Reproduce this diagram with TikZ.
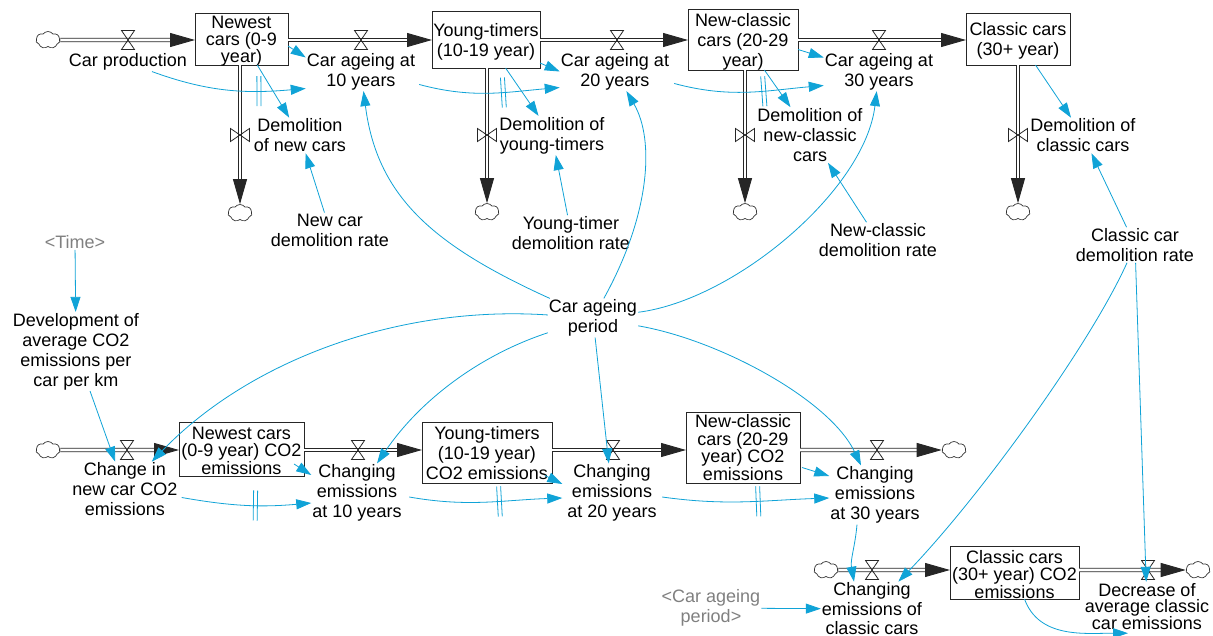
\documentclass[tikz,border=0pt]{standalone}
\usepackage{fontspec}
\setmainfont{Liberation Sans}
\usetikzlibrary{arrows.meta,shapes.symbols,decorations.markings}
\definecolor{linkblue}{RGB}{16,163,215}
\definecolor{ghost}{RGB}{128,128,128}
\begin{document}
\begin{tikzpicture}[x=1pt,y=1pt,
  txt/.style={font=\fontsize{18}{20}\selectfont, align=center, inner sep=1pt},
  graytxt/.style={txt, text=ghost},
  stockbox/.style={draw=black!85, line width=0.9pt, inner sep=0pt, outer sep=0pt},
  stocktxt/.style={font=\fontsize{18}{#1}\selectfont, align=center, inner sep=0pt},
  cloudnode/.style={cloud, cloud puffs=7, cloud puff arc=110, aspect=1.4, draw=black!80, line width=0.7pt, inner sep=0pt, minimum width=24pt, minimum height=17pt},
  valvenode/.style={inner sep=0pt, outer sep=0pt, minimum width=13pt, minimum height=19pt},
  valvevnode/.style={inner sep=0pt, outer sep=0pt, minimum width=19pt, minimum height=13pt},
  valveline/.style={draw=black!85, line width=0.8pt},
  pipe/.style={draw=black!85, double=white, double distance=2.6pt, line width=0.9pt, -{Triangle[length=25pt,width=14pt]}},
  link/.style={draw=linkblue, line width=0.8pt, -{Triangle[length=15pt,width=10pt]}},
  delay/.style={postaction={decorate, decoration={markings, mark=at position #1 with {\draw[linkblue, line width=0.8pt, -] (-2pt,-15pt) -- (-2pt,15pt) (2pt,-15pt) -- (2pt,15pt);}}}},
]
\fill[white] (0,0) rectangle (1213,-636);
\useasboundingbox (0,0) rectangle (1213,-636);

% ---------- top chain ----------
\node[cloudnode] (c1) at (48,-40) {};
\node[valvenode] (v1) at (128,-40) {};
\node[txt] (v1lab) at (128,-62) {Car production};
\node[stockbox, minimum width=93pt, minimum height=52pt,
  label={[stocktxt=17, yshift=-2.5pt]center:Newest\\cars (0-9\\year)}] (s1) at (241.5,-39) {};
\node[valvenode] (v2) at (361,-40) {};
\node[txt] (v2lab) at (361,-71.5) {Car ageing at\\10 years};
\node[stockbox, minimum width=108pt, minimum height=57pt,
  label={[stocktxt=20, yshift=-2.5pt]center:Young-timers\\(10-19 year)}] (s2) at (486,-39.5) {};
\node[valvenode] (v3) at (617,-40) {};
\node[txt] (v3lab) at (615,-71.5) {Car ageing at\\20 years};
\node[stockbox, minimum width=110pt, minimum height=61pt,
  label={[stocktxt=20, yshift=-2pt]center:New-classic\\cars (20-29\\year)}] (s3) at (743,-39.5) {};
\node[valvenode] (v4) at (879,-40) {};
\node[txt] (v4lab) at (879,-71.5) {Car ageing at\\30 years};
\node[stockbox, minimum width=104pt, minimum height=52pt,
  label={[stocktxt=20, yshift=-2pt]center:Classic cars\\(30+ year)}] (s4) at (1018,-39) {};

% outflows
\node[valvevnode] (w1) at (240,-135) {};
\node[valvevnode] (w2) at (487,-135) {};
\node[valvevnode] (w3) at (745,-135) {};
\node[valvevnode] (w4) at (1018,-135) {};
\node[cloudnode] (cd1) at (240,-213) {};
\node[cloudnode] (cd2) at (487,-212) {};
\node[cloudnode] (cd3) at (745,-212) {};
\node[cloudnode] (cd4) at (1018,-212) {};
\node[txt] (d1lab) at (300,-135.5) {Demolition\\of new cars};
\node[txt] (d2lab) at (552,-135.5) {Demolition of\\young-timers};
\node[txt] (d3lab) at (810,-135) {Demolition of\\new-classic\\cars};
\node[txt] (d4lab) at (1083,-135.5) {Demolition of\\classic cars};

\node[txt] (r1) at (330,-230) {New car\\demolition rate};
\node[txt] (r2) at (571,-233) {Young-timer\\demolition rate};
\node[txt] (r3) at (878,-240) {New-classic\\demolition rate};
\node[txt] (r4) at (1135,-245) {Classic car\\demolition rate};

\node[graytxt] (time) at (75,-242) {<Time>};
\node[txt] (dev) at (76,-351.5) {Development of\\average CO2\\emissions per\\car per km};
\node[txt] (cap) at (593,-318) {Car ageing\\period};

% ---------- bottom chain ----------
\node[cloudnode] (bc1) at (48,-450) {};
\node[valvenode] (bv1) at (127,-450) {};
\node[txt] (bv1lab) at (125,-489.5) {Change in\\new car CO2\\emissions};
\node[stockbox, minimum width=125pt, minimum height=54pt,
  label={[stocktxt=17.5, yshift=-1.5pt]center:Newest cars\\(0-9 year) CO2\\emissions}] (b1) at (241.5,-449) {};
\node[valvenode] (bv2) at (358,-450) {};
\node[txt] (bv2lab) at (357,-493) {Changing\\emissions\\at 10 years};
\node[stockbox, minimum width=130pt, minimum height=61pt,
  label={[stocktxt=20, yshift=-1pt]center:Young-timers\\(10-19 year)\\CO2 emissions}] (b2) at (487,-452.5) {};
\node[valvenode] (bv3) at (613,-450) {};
\node[txt] (bv3lab) at (612,-493) {Changing\\emissions\\at 20 years};
\node[stockbox, minimum width=114pt, minimum height=71pt,
  label={[stocktxt=17.5]center:New-classic\\cars (20-29\\year) CO2\\emissions}] (b3) at (743,-447.5) {};
\node[valvenode] (bv4) at (877,-450) {};
\node[txt] (bv4lab) at (875,-495) {Changing\\emissions\\at 30 years};
\node[cloudnode] (bc2) at (954,-450) {};

\node[cloudnode] (bc3) at (826,-570) {};
\node[valvenode] (bv5) at (872,-570) {};
\node[txt, font=\fontsize{18}{19.5}\selectfont] (bv5lab) at (872,-609) {Changing\\emissions of\\classic cars};
\node[stockbox, minimum width=129pt, minimum height=53pt,
  label={[stocktxt=17.5, yshift=-2pt]center:Classic cars\\(30+ year) CO2\\emissions}] (b4) at (1014.5,-572.5) {};
\node[valvenode] (bv6) at (1148,-570) {};
\node[txt, font=\fontsize{18}{16}\selectfont] (bv6lab) at (1147,-606.5) {Decrease of\\average classic\\car emissions};
\node[cloudnode] (bc4) at (1198,-570) {};
\node[graytxt] (cap2) at (711,-608) {<Car ageing\\period>};

% ---------- pipes ----------
\draw[pipe] (c1) -- (c1 -| s1.west);
\draw[pipe] (s1.east |- v2) -- (s2.west |- v2);
\draw[pipe] (s2.east |- v3) -- (s3.west |- v3);
\draw[pipe] (s3.east |- v4) -- (s4.west |- v4);
\draw[pipe] (w1 |- s1.south) -- (cd1);
\draw[pipe] (w2 |- s2.south) -- (cd2);
\draw[pipe] (w3 |- s3.south) -- (cd3);
\draw[pipe] (w4 |- s4.south) -- (cd4);
\draw[pipe] (bc1) -- (bc1 -| b1.west);
\draw[pipe] (b1.east |- bv2) -- (b2.west |- bv2);
\draw[pipe] (b2.east |- bv3) -- (b3.west |- bv3);
\draw[pipe] (b3.east |- bv4) -- (bc2);
\draw[pipe] (bc3) -- (bc3 -| b4.west);
\draw[pipe] (b4.east |- bv6) -- (bc4);

% valves
\foreach \v in {v1,v2,v3,v4,bv1,bv2,bv3,bv4,bv5,bv6}
  \draw[valveline] (\v.north west) -- (\v.south east) -- (\v.south west) -- (\v.north east) -- cycle;
\foreach \v in {w1,w2,w3,w4}
  \draw[valveline] (\v.north west) -- (\v.south east) -- (\v.north east) -- (\v.south west) -- cycle;

% ---------- links top ----------
\draw[link] ([shift={(0,-7)}]s1.east) -- ([shift={(0,14)}]v2lab.west);
\draw[link] ([shift={(0,5)}]s2.south east) -- (v3lab.west);
\draw[link] ([shift={(0,-10)}]s3.east) -- ([shift={(0,14)}]v4lab.west);

\draw[link, delay=0.7] ([shift={(24,0)}]v1lab.south) to[out=-20, in=185] ([shift={(0,-17)}]v2lab.west);
\draw[link, delay=0.6] ([shift={(3,-13)}]v2lab.east) to[out=-15, in=185] ([shift={(0,-16)}]v3lab.west);
\draw[link, delay=0.6] ([shift={(4,-12)}]v3lab.east) to[out=-15, in=185] ([shift={(0,-14)}]v4lab.west);

\draw[link] (s1) -- (d1lab);
\draw[link] (s2) -- (d2lab);
\draw[link] (s3) -- (d3lab);
\draw[link] (s4) -- (d4lab);
\draw[link] (r1) -- (d1lab);
\draw[link] (r2) -- (d2lab);
\draw[link] (r3) -- (d3lab);
\draw[link] (r4) -- (d4lab);

% car ageing period
\draw[link] (cap) .. controls +(-161,73) and +(16,-124.5) .. (v2lab);
\draw[link] (cap) .. controls +(57,103) and +(40,-68.5) .. (v3lab);
\draw[link] (cap) .. controls +(142,18) and +(-14,-118.5) .. (v4lab);
\draw[link] (cap) .. controls +(-193,13) and +(125,130) .. (bv1lab);
\draw[link] (cap) .. controls +(-113,-37) and +(63,93) .. (bv2lab);
\draw[link] (cap) -- (bv3lab);
\draw[link] (cap) .. controls +(127,-22) and +(-45,95) .. (bv4lab);

% ---------- links bottom ----------
\draw[link] (time) -- (dev);
\draw[link] (dev) -- (bv1lab);
\draw[link] ([shift={(-10,-15)}]b1.east) -- ([shift={(0,18)}]bv2lab.west);
\draw[link] ([shift={(-7,-23)}]b2.east) -- ([shift={(-4,9)}]bv3lab.west);
\draw[link] ([shift={(2,-20)}]b3.east) -- ([shift={(0,19)}]bv4lab.west);

\draw[link, delay=0.57] ([shift={(3,-8)}]bv1lab.east) to[out=-10, in=185] ([shift={(0,-10)}]bv2lab.west);
\draw[link, delay=0.59] ([shift={(6.5,-4)}]bv2lab.east) to[out=-10, in=182] ([shift={(-4,-5)}]bv3lab.west);
\draw[link, delay=0.575] ([shift={(4.5,-4)}]bv3lab.east) to[out=-8, in=182] ([shift={(0,-3)}]bv4lab.west);

\draw[link] ([shift={(-18,0)}]bv4lab.south) to[out=-95, in=100] ([shift={(-18,0)}]bv5lab.north);
\draw[link] (r4) .. controls +(-45,-100) and +(107,111) .. (bv5lab);
\draw[link] (r4) -- (bv6lab);
\draw[link] ([shift={(10,0)}]b4.south) to[out=-70, in=180] ([shift={(-19,-2)}]bv6lab.south);
\draw[link] (cap2) -- (bv5lab);
\end{tikzpicture}
\end{document}
